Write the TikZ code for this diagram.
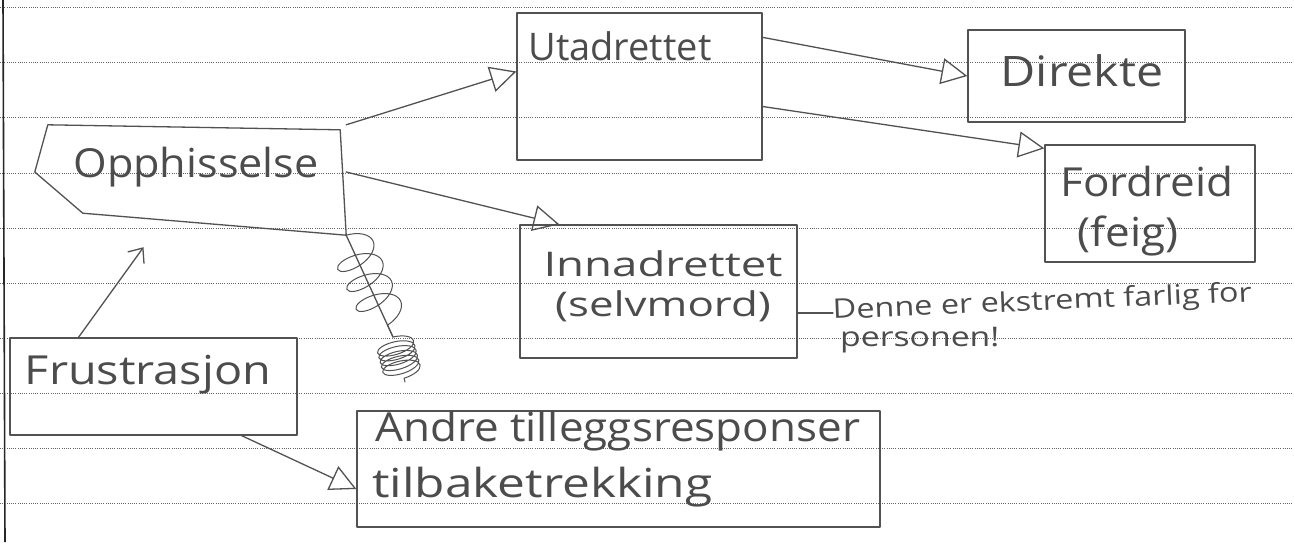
\documentclass[tikz,border=0pt]{standalone}
\usepackage{fontspec}
\usepackage{graphicx}
\setmainfont{Open Sans}
\usetikzlibrary{arrows.meta,decorations.pathmorphing,calc}
\begin{document}
\begin{tikzpicture}[x=1pt,y=-1pt,
  pen/.style={draw=black!68, line width=1.3pt, line join=round, line cap=round},
  box/.style={pen, rectangle, inner sep=0pt},
  ghost/.style={rectangle, inner sep=0pt, draw=none},
  hw/.style={text=black!70, inner sep=0pt, anchor=base, font={\fontsize{#1pt}{#1pt}\selectfont}},
  tri/.style={pen, -{Triangle[open, length=26pt, width=26pt, line width=1.3pt]}},
  barb/.style={pen, -{Straight Barb[length=12pt, width=20pt, line width=1.3pt]}},
  ruled/.style={draw=black!60, line width=1pt, dash pattern=on 1pt off 1.2pt}]
% paper
\useasboundingbox[fill=white] (0,0) rectangle (1294,542);
\foreach \yy in {7,62,117,173,228,283,338,393,448,503}
  \draw[ruled] (0,\yy) -- (1294,\yy);
\draw[draw=black!85, line width=1.6pt] (3,0) -- (5,542);
% boxes
\node[box, minimum width=245pt, minimum height=147pt] (ut) at (639.5,86.5) {};
\node[box, minimum width=217pt, minimum height=92pt] (dir) at (1076.5,76) {};
\node[box, minimum width=210pt, minimum height=117pt] (ford) at (1150,203.5) {};
\node[ghost, minimum width=311pt, minimum height=110pt] (opp) at (190.5,180) {};
\draw[pen] ($(opp.north west)+(13,0)$) -- ($(opp.north east)+(-6,5)$) -- (opp.south east)
  -- ($(opp.south west)+(48,-22)$) -- ($(opp.west)+(0,-8)$) -- cycle;
\node[box, minimum width=277pt, minimum height=133pt] (inn) at (658.5,291.5) {};
\node[box, minimum width=287pt, minimum height=97pt] (fru) at (153.5,386.5) {};
\node[box, minimum width=523pt, minimum height=116pt] (andre) at (618.5,469) {};
% texts
\node[hw=38] (tut) at (620,60) {Utadrettet};
\node[hw=42] (tdir) at (1082,86) {\scalebox{1.15}[1]{Direkte}};
\node[hw=40] (tford) at (1147,196) {\scalebox{1.1}[1]{Fordreid}};
\node[hw=40] (tfeig) at (1128,246) {\scalebox{1.1}[1]{(feig)}};
\node[hw=40] (topp) at (196,177) {\scalebox{1.08}[1]{Opphisselse}};
\node[hw=34] (tinn) at (663,276) {\scalebox{1.34}[1]{Innadrettet}};
\node[hw=34] (tself) at (663,316) {\scalebox{1.29}[1]{(selvmord)}};
\node[hw=40] (tfru) at (148,384) {\scalebox{1.17}[1]{Frustrasjon}};
\node[hw=40, anchor=base west] (tandre) at (375,441) {\scalebox{1.1}[1]{Andre tilleggsresponser}};
\node[hw=40, anchor=base west] (ttil) at (372,497) {\scalebox{1.24}[1]{tilbaketrekking}};
\node[hw=27, anchor=base west, rotate=2.4] (note1) at (833,319) {\scalebox{1.2}[1]{Denne er ekstremt farlig for}};
\node[hw=27, anchor=base west] (note2) at (840,346) {\scalebox{1.25}[1]{personen!}};
% connectors
\draw[tri] (opp.north east) -- ([yshift=15pt]ut.west);
\draw[tri] ([yshift=8pt]opp.east) -- ([xshift=40pt]inn.north west);
\draw[tri] ([yshift=-25pt]ut.north east) -- (dir.west);
\draw[tri] ([yshift=-20pt]ut.east) -- ([yshift=-4pt]ford.north west);
\draw[barb] ([xshift=-75pt]fru.north) -- ([xshift=-47pt,yshift=-12pt]opp.south);
\draw[tri] ([xshift=-56pt]fru.south east) -- ([yshift=-20pt]andre.west);
\coordinate (nstart) at (833,313);
\draw[pen] (inn.east |- nstart) -- (nstart);
% coil
\coordinate (cmid) at (393,337);
\coordinate (cend) at (405,382);
\draw[pen] (opp.south east) -- (cmid);
\draw[pen, line width=1pt, decorate, decoration={coil, aspect=0.5, segment length=22pt, amplitude=22pt}]
  (opp.south east) -- (cmid);
\draw[pen, line width=1pt, decorate, decoration={coil, aspect=0.4, segment length=5pt, amplitude=19pt}]
  (cmid) -- (cend);
\end{tikzpicture}
\end{document}
